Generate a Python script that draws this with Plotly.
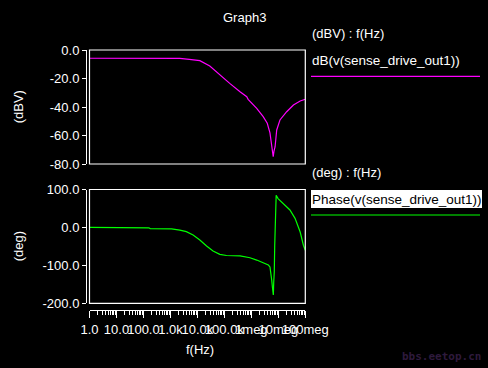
import plotly.graph_objects as go

# ---- data ----
mag_freq = [1, 1000, 2240, 5000, 12300, 28800, 67600, 158000, 380000, 676000,
            759000, 1.58e6, 2.75e6, 3.89e6, 4.90e6, 5.62e6, 6.03e6, 6.46e6,
            6.90e6, 7.59e6, 8.71e6, 1.15e7, 2.04e7, 3.63e7, 6.46e7, 1e8]
mag_db = [-5.8, -5.8, -5.9, -6.6, -7.5, -11.2, -17.5, -23.4, -29.3, -32.8,
          -34.6, -40.9, -46.8, -51.4, -58.2, -67.9, -72.0, -74.9,
          -71.0, -67.9, -56.1, -49.1, -43.3, -38.6, -35.8, -34.6]

ph_freq = [1, 158, 178, 1100, 2240, 3890, 6920, 12300, 21900, 38000, 67600,
           120000, 380000, 891000, 1.58e6, 2.82e6, 4.27e6, 4.90e6, 5.25e6,
           5.69e6, 6.03e6, 6.53e6, 6.76e6, 7.08e6, 7.35e6, 7.94e6, 8.32e6,
           9.77e6, 1.51e7, 2.69e7, 4.17e7, 6.46e7, 8.51e7, 1e8]
ph_deg = [0, -1, -3, -4, -7, -11, -20, -33, -49, -62, -71,
          -74, -75, -80, -86, -93, -99, -104, -117,
          -139, -157, -178, -143, -117, -47, 24, 85,
          76, 63, 46, 24, -12, -47, -60]

x_tick_vals = [1, 10, 100, 1e3, 1e4, 1e5, 1e6, 1e7, 1e8]
x_tick_text = ["1.0", "10.0", "100.0", "1.0k", "10.0k", "100.0k", "1meg", "10meg", "100meg"]
mag_tick_vals = [0, -20, -40, -60, -80]
mag_tick_text = ["0.0", "-20.0", "-40.0", "-60.0", "-80.0"]
ph_tick_vals = [100, 0, -100, -200]
ph_tick_text = ["100.0", "0.0", "-100.0", "-200.0"]

W, H = 488, 368
FONT = "Liberation Sans, Arial, sans-serif"
FS = 13

def px(x):
    return x / W

def py(y):
    return 1 - y / H

fig = go.Figure()
fig.add_trace(go.Scatter(x=mag_freq, y=mag_db, mode="lines",
                         line=dict(color="#ff00ff", width=1.2),
                         xaxis="x", yaxis="y", showlegend=False, hoverinfo="skip"))
fig.add_trace(go.Scatter(x=ph_freq, y=ph_deg, mode="lines",
                         line=dict(color="#00ff00", width=1.2),
                         xaxis="x2", yaxis="y2", showlegend=False, hoverinfo="skip"))

xdom = [px(89.5), px(305.3)]
minor_vals = [m * 10 ** k for k in range(8) for m in range(2, 10)]

fig.update_layout(
    width=W, height=H,
    margin=dict(l=0, r=0, t=0, b=0, pad=0, autoexpand=False),
    paper_bgcolor="black", plot_bgcolor="black",
    font=dict(family=FONT, size=FS, color="white"),
    xaxis=dict(domain=xdom, type="log", range=[0, 8], visible=False,
               anchor="y", showgrid=False, zeroline=False, automargin=False),
    yaxis=dict(domain=[py(164), py(50)], range=[-80, 0], anchor="free",
               position=px(86), showline=True, linecolor="white", linewidth=1,
               ticks="outside", ticklen=4, tickcolor="white", automargin=False,
               tickvals=mag_tick_vals, ticktext=mag_tick_text,
               showgrid=False, zeroline=False),
    xaxis2=dict(domain=xdom, type="log", range=[0, 8], anchor="free",
                position=py(310), showline=True, linecolor="white", linewidth=1,
                ticks="outside", ticklen=7, tickcolor="white", tickangle=0,
                automargin=False,
                tickvals=x_tick_vals, ticktext=x_tick_text,
                minor=dict(ticks="outside", ticklen=3.5, tickcolor="white",
                           tickmode="array", tickvals=minor_vals, showgrid=False),
                showgrid=False, zeroline=False),
    yaxis2=dict(domain=[py(303.3), py(189.5)], range=[-200, 100], anchor="free",
                position=px(86), showline=True, linecolor="white", linewidth=1,
                ticks="outside", ticklen=4, tickcolor="white", automargin=False,
                tickvals=ph_tick_vals, ticktext=ph_tick_text,
                showgrid=False, zeroline=False),
)

shapes = [
    dict(type="rect", xref="x domain", yref="y domain", x0=0, x1=1, y0=0, y1=1,
         line=dict(color="white", width=1.2)),
    dict(type="rect", xref="x2 domain", yref="y2 domain", x0=0, x1=1, y0=0, y1=1,
         line=dict(color="white", width=1.2)),
    dict(type="line", xref="paper", yref="paper", x0=px(311), x1=px(480),
         y0=py(76.3), y1=py(76.3), line=dict(color="#ff00ff", width=1.2)),
    dict(type="rect", xref="paper", yref="paper", x0=px(311), x1=px(482),
         y0=py(208), y1=py(190), fillcolor="white", line=dict(width=0)),
    dict(type="line", xref="paper", yref="paper", x0=px(311), x1=px(480),
         y0=py(215), y1=py(215), line=dict(color="#00ff00", width=1.2)),
]
fig.update_layout(shapes=shapes)

def ann(text, x, y, xanchor="center", color="white", angle=0, size=FS, family=FONT):
    return dict(text=text, x=px(x), y=py(y), xref="paper", yref="paper",
                xanchor=xanchor, yanchor="middle", showarrow=False,
                textangle=angle, font=dict(color=color, size=size, family=family))

annotations = [
    ann("Graph3", 244, 17),
    ann("(dBV)", 18.3, 107, angle=-90),
    ann("(deg)", 18.3, 246, angle=-90),
    ann("f(Hz)", 200, 349),
    ann("(dBV) : f(Hz)", 310, 34, xanchor="left"),
    ann("dB(v(sense_drive_out1))", 310, 60, xanchor="left", size=13.5),
    ann("(deg) : f(Hz)", 310, 173, xanchor="left"),
    ann("Phase(v(sense_drive_out1))", 310, 199, xanchor="left", color="black", size=13.5),
    ann("<b>bbs.eetop.cn</b>", 483, 356, xanchor="right", color="#2e1a3c",
        size=11, family="DejaVu Sans Mono, monospace"),
]
fig.update_layout(annotations=annotations)

page_style = (
    "document.documentElement.style.margin='0';"
    "document.documentElement.style.overflow='hidden';"
    "document.documentElement.style.background='black';"
    "document.body.style.margin='0';"
    "document.body.style.overflow='hidden';"
    "document.body.style.background='black';"
)
fig.write_html("out.html", post_script=page_style,
               config={"displayModeBar": False, "staticPlot": True})
